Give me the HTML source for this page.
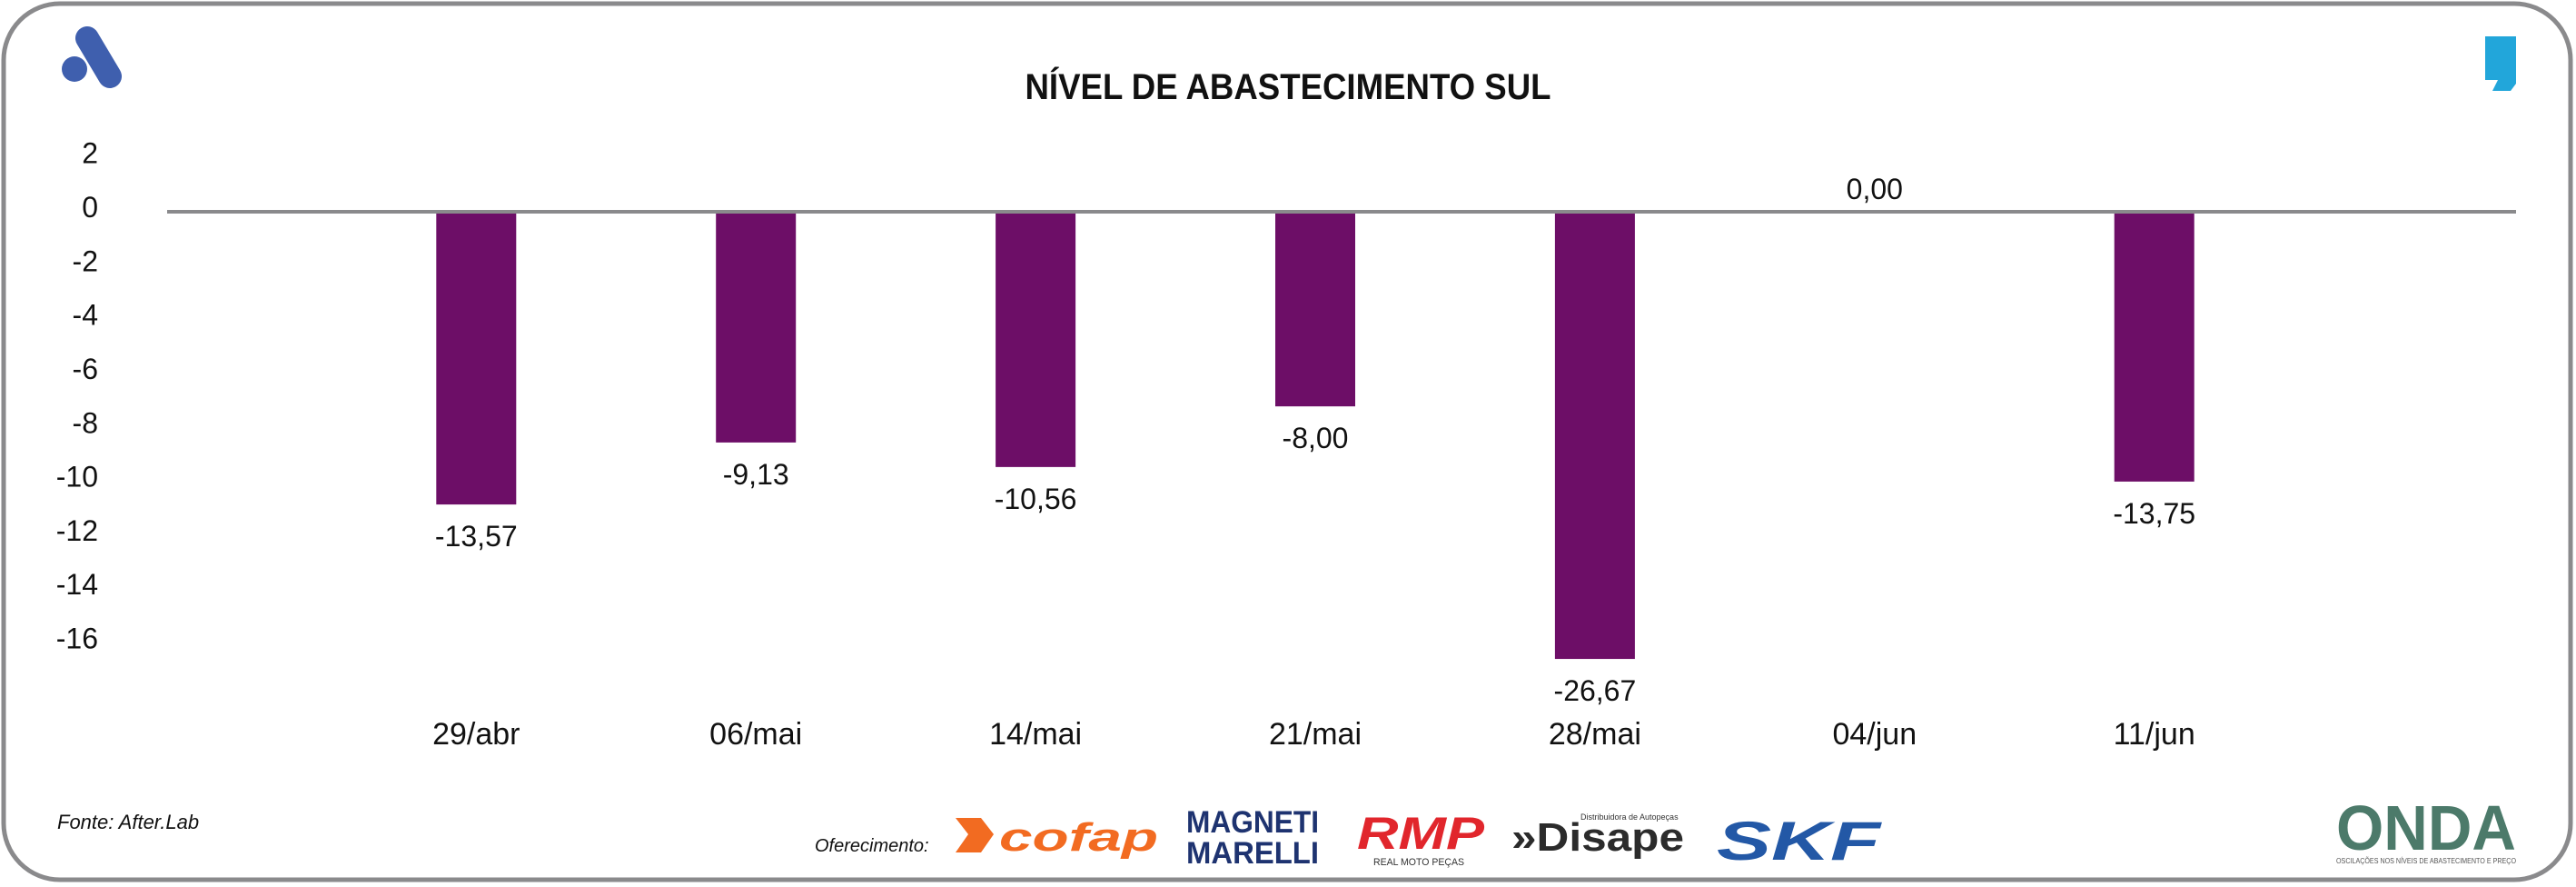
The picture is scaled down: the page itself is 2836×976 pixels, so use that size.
<!DOCTYPE html>
<html><head><meta charset="utf-8"><style>
html,body{margin:0;padding:0;background:#fff;}
svg{display:block;font-family:"Liberation Sans",sans-serif;}
</style></head><body>
<svg id="chart" width="2836" height="976" viewBox="0 0 2836 976">
<rect x="4" y="4" width="2826" height="964" rx="62" fill="#fff" stroke="#8a8a8c" stroke-width="5"/>
<g>
<circle cx="82" cy="76" r="14" fill="#3f5fae"/>
<line x1="96" y1="42" x2="121" y2="84" stroke="#3f5fae" stroke-width="26" stroke-linecap="round"/>
</g>
<path d="M2736 40 H2770 V92 L2764 100 H2744 L2750 88 H2736 Z" fill="#22a6da"/>
<text x="1418" y="109" text-anchor="middle" font-weight="bold" font-size="40" textLength="579" lengthAdjust="spacingAndGlyphs" fill="#111">NÍVEL DE ABASTECIMENTO SUL</text>
<g id="yaxis"></g>
<g id="bars"></g>
<line x1="184" y1="233" x2="2770" y2="233" stroke="#8a8a8c" stroke-width="4"/>
<g id="labels"></g>
<g id="xaxis"></g>
<text x="63" y="912" font-style="italic" font-size="22" fill="#111">Fonte: After.Lab</text>
<text x="897" y="937" font-style="italic" font-size="20" fill="#111">Oferecimento:</text>
<g>
<path d="M1052 900 L1080 900 L1094 918 L1080 938 L1052 938 L1066 918 Z" fill="#f26b21"/>
<text x="1100" y="936" font-size="44" font-weight="bold" font-style="italic" fill="#f26b21" textLength="175" lengthAdjust="spacingAndGlyphs">cofap</text>
</g>
<g>
<text x="1379" y="916" text-anchor="middle" font-size="34" font-weight="bold" fill="#1e3370" textLength="146" lengthAdjust="spacingAndGlyphs">MAGNETI</text>
<text x="1379" y="950" text-anchor="middle" font-size="34" font-weight="bold" fill="#1e3370" textLength="146" lengthAdjust="spacingAndGlyphs">MARELLI</text>
</g>
<g>
<text x="1494" y="934" font-size="50" font-weight="bold" font-style="italic" fill="#e1262c" textLength="140" lengthAdjust="spacingAndGlyphs">RMP</text>
<text x="1512" y="952" font-size="11" fill="#333" textLength="100" lengthAdjust="spacingAndGlyphs">REAL MOTO PEÇAS</text>
</g>
<g>
<text x="1664" y="936" font-size="44" font-weight="bold" fill="#2b2b2b" textLength="190" lengthAdjust="spacingAndGlyphs">»Disape</text>
<text x="1740" y="902" font-size="9" fill="#333">Distribuidora de Autopeças</text>
</g>
<text x="1890" y="946" font-size="60" font-weight="bold" font-style="italic" fill="#2358a6" textLength="180" lengthAdjust="spacingAndGlyphs">SKF</text>
<g>
<text x="2671" y="935" text-anchor="middle" font-size="70" font-weight="bold" fill="#4c7a6a" textLength="198" lengthAdjust="spacingAndGlyphs">ONDA</text>
<text x="2671" y="950" text-anchor="middle" font-size="8" fill="#555" textLength="198" lengthAdjust="spacingAndGlyphs">OSCILAÇÕES NOS NÍVEIS DE ABASTECIMENTO E PREÇO</text>
</g>
</svg>
<script>
const categories = ["29/abr","06/mai","14/mai","21/mai","28/mai","04/jun","11/jun"];
const barValues = [-10.86,-8.56,-9.47,-7.22,-16.59,0,-10.01];
const valueLabels = ["-13,57","-9,13","-10,56","-8,00","-26,67","0,00","-13,75"];
const yTicks = [2,0,-2,-4,-6,-8,-10,-12,-14,-16];
const NS="http://www.w3.org/2000/svg";
const zeroY=233, unit=29.66;
function yScale(v){return zeroY - v*unit;}
function xScale(i){return 1448 + (i-3)*307.9;}
function mk(tag,attrs,parent,txt){const e=document.createElementNS(NS,tag);for(const k in attrs)e.setAttribute(k,attrs[k]);if(txt!==undefined)e.textContent=txt;parent.appendChild(e);return e;}
const ya=document.getElementById('yaxis');
yTicks.forEach(t=>{
 const e=mk('text',{x:108,y:yScale(t)+6,'text-anchor':'end','font-size':32,fill:'#111'},ya,String(t));
 
 
});
const bg=document.getElementById('bars'),lg=document.getElementById('labels'),xg=document.getElementById('xaxis');
categories.forEach((c,i)=>{
 const v=barValues[i],cx=xScale(i);
 const y0=yScale(0),y1=yScale(v);
 if(v!==0){
  const r=mk('rect',{x:cx-44,y:Math.min(y0,y1),width:88,height:Math.abs(y1-y0),fill:'#6d0e67'},bg);
  
  
 }
 const ly = v<0 ? y1+46 : y0-14;
 const t=mk('text',{x:cx,y:ly,'text-anchor':'middle','font-size':32,fill:'#111'},lg,valueLabels[i]);
 
 
 const xl=mk('text',{x:cx,y:819,'text-anchor':'middle','font-size':34,fill:'#111'},xg,c);
 
 
});
</script>
</body></html>
